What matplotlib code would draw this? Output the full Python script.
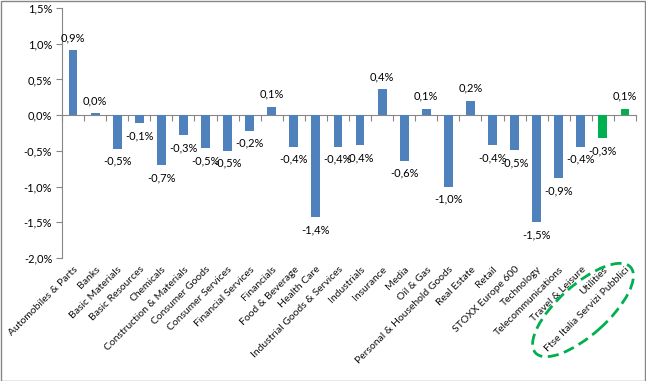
import matplotlib
matplotlib.use("Agg")
import matplotlib.pyplot as plt
from matplotlib.patches import Ellipse, Rectangle
from matplotlib.transforms import IdentityTransform, blended_transform_factory

plt.rcParams['font.family'] = ['Lato', 'DejaVu Sans']

# Sector performance (%)
sectors = ['Automobiles & Parts', 'Banks', 'Basic Materials', 'Basic Resources',
           'Chemicals', 'Construction & Materials', 'Consumer Goods',
           'Consumer Services', 'Financial Services', 'Financials',
           'Food & Beverage', 'Health Care', 'Industrial Goods & Services',
           'Industrials', 'Insurance', 'Media', 'Oil & Gas',
           'Personal & Household Goods', 'Real Estate', 'Retail',
           'STOXX Europe 600', 'Technology', 'Telecommunications',
           'Travel & Leisure', 'Utilities', 'Ftse Italia Servizi Pubblici']
values = [0.91, 0.03, -0.47, -0.11, -0.70, -0.28, -0.46, -0.50, -0.22, 0.12,
          -0.44, -1.43, -0.44, -0.42, 0.36, -0.64, 0.09, -1.00, 0.20, -0.42,
          -0.49, -1.50, -0.88, -0.44, -0.32, 0.09]
highlight = ['Utilities', 'Ftse Italia Servizi Pubblici']
yticks = [-2.0, -1.5, -1.0, -0.5, 0.0, 0.5, 1.0, 1.5]

blue = '#4F81BD'
green = '#00B050'
gray = '#868686'
fs = 8

W, H = 646, 381
fig = plt.figure(figsize=(W / 100, H / 100), dpi=100)
ax = fig.add_axes([62 / W, 1 - 258 / H, (636 - 62) / W, (258 - 8) / H])

x = list(range(len(sectors)))
colors = [green if s in highlight else blue for s in sectors]
ax.bar(x, values, width=0.4, color=colors, zorder=3)

for xi, v in zip(x, values):
    lbl = ('%.1f%%' % v).replace('.', ',')
    if v >= 0:
        ax.annotate(lbl, (xi, v), xytext=(0, 5), textcoords='offset points',
                    ha='center', va='bottom', fontsize=fs)
    else:
        ax.annotate(lbl, (xi, v), xytext=(0, -5), textcoords='offset points',
                    ha='center', va='top', fontsize=fs)

ax.set_xlim(-0.5, len(sectors) - 0.5)
ax.set_ylim(-2.0, 1.5)
ax.set_yticks(yticks)
ax.set_yticklabels([('%.1f%%' % t).replace('.', ',') for t in yticks], fontsize=fs)

# x axis drawn at zero, ticks between categories
ax.spines['bottom'].set_position(('data', 0))
ax.set_xticks([i - 0.5 for i in range(len(sectors) + 1)])
ax.set_xticklabels([])
ax.tick_params(axis='x', length=4, color=gray, direction='out')
ax.tick_params(axis='y', length=4, color=gray, direction='out', pad=3)
for s in ['top', 'right']:
    ax.spines[s].set_visible(False)
for s in ['left', 'bottom']:
    ax.spines[s].set_color(gray)

# category labels below the plot area
tr = blended_transform_factory(ax.transData, ax.transAxes)
for xi, s in zip(x, sectors):
    ax.text(xi + 0.15, -0.04, s, transform=tr, rotation=45, ha='right',
            va='center', rotation_mode='anchor', fontsize=7.5, color='#111111')

# dashed green ellipse around the Italian utilities labels
ell = Ellipse((583, H - 310), 128, 50, angle=42, transform=IdentityTransform(),
              fill=False, edgecolor=green, linestyle=(0, (4, 2)), linewidth=2,
              clip_on=False)
fig.add_artist(ell)

fig.add_artist(Rectangle((0.5 / W, 0.5 / H), 1 - 1.5 / W, 1 - 1.5 / H,
                         transform=fig.transFigure, fill=False,
                         edgecolor=gray, linewidth=1))

fig.savefig('out.png', dpi=100)
